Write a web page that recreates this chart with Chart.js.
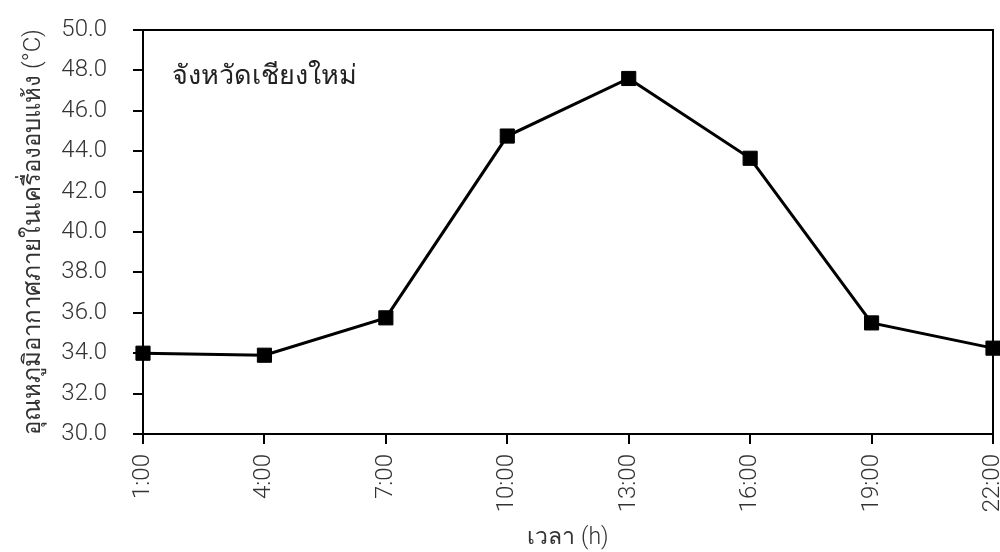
<!DOCTYPE html>
<html>
<head>
<meta charset="utf-8">
<script src="https://cdn.jsdelivr.net/npm/chart.js@4.4.1/dist/chart.umd.min.js"></script>
<style>
  html, body { margin: 0; padding: 0; background: #fff; overflow: hidden; }
  #wrap { width: 1000px; height: 552px; }
</style>
</head>
<body>
<div id="wrap"><canvas id="line"></canvas></div>
<script>
// data
var timeLabels = ["1:00", "4:00", "7:00", "10:00", "13:00", "16:00", "19:00", "22:00"];
var tempValues = [34.0, 33.9, 35.75, 44.75, 47.6, 43.65, 35.5, 34.25];
var yMin = 30, yMax = 50;
var placeName = "จังหวัดเชียงใหม่";
var yTitle = "อุณหภูมิอากาศภายในเครื่องอบแห้ง (°C)";
var xTitle = "เวลา (h)";

var FONT = "Roboto, 'Noto Sans', sans-serif";
var TXT = "#333333";

// box around plot area + place name
var frame = {
	id: "frame",
	afterDatasetsDraw: function (chart) {
		var a = chart.chartArea, ctx = chart.ctx;
		ctx.save();
		ctx.strokeStyle = "#000";
		ctx.lineWidth = 2;
		ctx.beginPath();
		ctx.moveTo(a.left, a.top);
		ctx.lineTo(a.right, a.top);
		ctx.lineTo(a.right, a.bottom);
		ctx.stroke();
		ctx.fillStyle = "#222";
		ctx.font = "300 27px " + FONT;
		ctx.textBaseline = "middle";
		ctx.fillText(placeName, a.left + 29, a.top + 47);
		ctx.restore();
	}
};

var ctx = document.getElementById("line").getContext("2d");
var lineChart = new Chart(ctx, {
	type: "line",
	data: {
		labels: timeLabels,
		datasets: [{
			data: tempValues,
			borderColor: "#000",
			borderWidth: 3,
			backgroundColor: "#000",
			pointStyle: "rect",
			pointRadius: 10,
			pointBorderWidth: 1,
			tension: 0,
			clip: false
		}]
	},
	options: {
		responsive: true,
		maintainAspectRatio: false,
		animation: false,
		layout: { autoPadding: false, padding: { left: 20, right: 7, top: 30, bottom: 0 } },
		plugins: { legend: { display: false }, tooltip: { enabled: false } },
		scales: {
			x: {
				offset: false,
				grid: { drawOnChartArea: false, color: "#000", tickLength: 10, lineWidth: 2 },
				border: { color: "#000", width: 2 },
				ticks: {
					color: TXT, font: { family: FONT, size: 24, weight: 300 },
					maxRotation: 90, minRotation: 90, padding: 10, autoSkip: false
				},
				title: { display: true, text: xTitle, color: TXT, font: { family: FONT, size: 23, weight: 300 }, padding: { top: 0, bottom: 0 } },
				afterFit: function (s) { s.height = 552 - 434; s.paddingLeft = 0; s.paddingRight = 0; }
			},
			y: {
				min: yMin, max: yMax,
				grid: { drawOnChartArea: false, color: "#000", tickLength: 10, lineWidth: 2 },
				border: { color: "#000", width: 2 },
				ticks: {
					stepSize: 1, color: TXT, font: { family: FONT, size: 24, weight: 300 }, padding: 26,
					callback: function (v) { return v % 2 === 0 ? v.toFixed(1) : ""; }
				},
				title: { display: true, text: yTitle, color: TXT, font: { family: FONT, size: 24, weight: 300 }, padding: 0 },
				afterFit: function (s) { s.width = 143 - 20; s.paddingTop = 0; s.paddingBottom = 0; }
			}
		}
	},
	plugins: [frame]
});
</script>
</body>
</html>
